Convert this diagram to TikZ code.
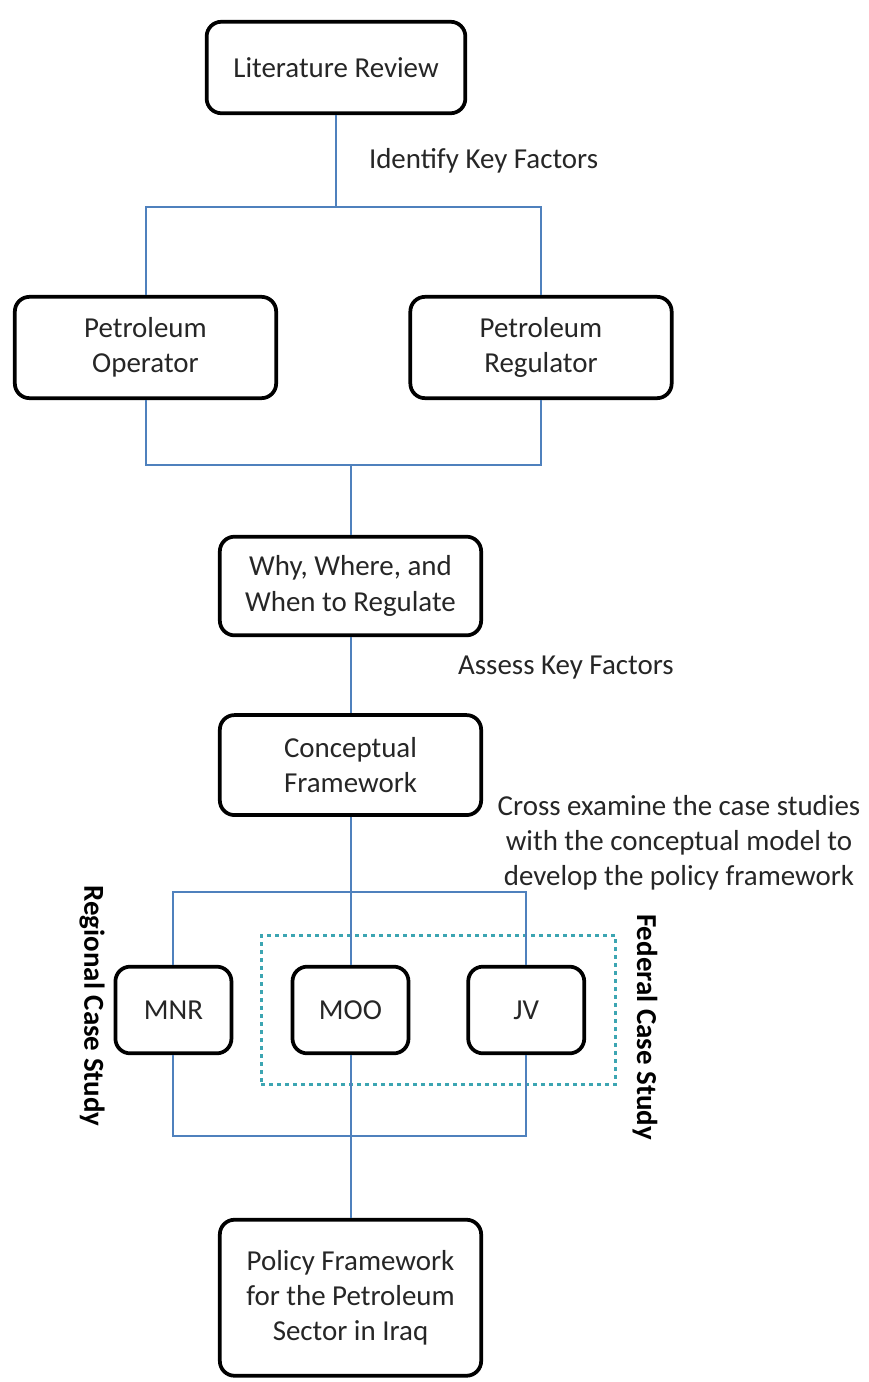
\documentclass[tikz,border=0pt]{standalone}
\usepackage{fontspec}
\setmainfont{Carlito}
\usetikzlibrary{positioning, fit}

\definecolor{linkblue}{RGB}{79,129,189}
\definecolor{dotteal}{RGB}{60,165,178}
\definecolor{textgrey}{RGB}{38,38,38}

\tikzset{
  box/.style={draw, line width=2.8pt, rounded corners=11pt, align=center, text=textgrey,
    minimum width=196pt, minimum height=75pt},
  smallbox/.style={box, minimum width=87pt, minimum height=65pt},
  link/.style={draw=linkblue, line width=1.5pt},
  note/.style={text=textgrey, inner sep=0pt, align=center},
  side/.style={inner sep=0pt, rotate=-90, font=\fontsize{21.7}{26.4}\selectfont\bfseries},
  group/.style={draw=dotteal, line width=2.4pt, dash pattern=on 3pt off 3pt, inner sep=22pt}
}

\begin{document}
\begin{tikzpicture}[x=0.75pt, y=-0.75pt, font=\fontsize{21.7}{26.4}\selectfont]
    \useasboundingbox (0,0) rectangle (868,1382);

    %% upper part
    % Nodes
    \node[box, minimum width=194pt, minimum height=68.6pt] (lit) at (336,67.5) {Literature Review};
    \node[box, minimum height=76pt] (oper) at (145.5,347.5) {Petroleum\\Operator};
    \node[box, minimum height=76pt] (regul) at (541,347.5) {Petroleum\\Regulator};
    \node[box, minimum height=74pt] (why) at (350.5,586) {Why, Where, and\\When to Regulate};
    \node[box, below=57pt of why] (concept) {Conceptual\\Framework};

    \coordinate (fork1) at (336,207);
    \coordinate (fork2) at (350.5,465);

    % Connections
    \draw[link] (lit) -- node[note, midway, right=24pt] {Identify Key Factors} (fork1);
    \draw[link] (oper.north) |- (fork1) -| (regul.north);
    \draw[link] (oper.south) |- (fork2) -| (regul.south);
    \draw[link] (fork2) -- (why);
    \draw[link] (why) -- node[note, midway, right=80pt, yshift=6pt] {Assess Key Factors} (concept);

    %% case studies
    % Nodes
    \node[note] (crossnote) at (679,843) {Cross examine the case studies\\with the conceptual model to\\develop the policy framework};
    \node[smallbox] (moo) at (350.5,1010) {MOO};
    \node[smallbox, left=43pt of moo] (mnr) {MNR};
    \node[smallbox, right=42pt of moo] (jv) {JV};
    \node[group, fit=(moo)(jv)] (federal) {};
    \node[side] (regional) at (92,1006) {Regional Case Study};
    \node[side] (fedlabel) at (645,1027) {Federal Case Study};
    \node[box, minimum height=117pt, below=122pt of moo] (policy) {Policy Framework\\for the Petroleum\\Sector in Iraq};

    \coordinate (fork3) at (350.5,892);
    \coordinate (fork4) at (350.5,1136);

    % Connections
    \draw[link] (mnr.north) |- (fork3) -| (jv.north);
    \draw[link] (concept) -- (moo);
    \draw[link] (mnr.south) |- (fork4) -| (jv.south);
    \draw[link] (moo) -- (policy);
\end{tikzpicture}
\end{document}
